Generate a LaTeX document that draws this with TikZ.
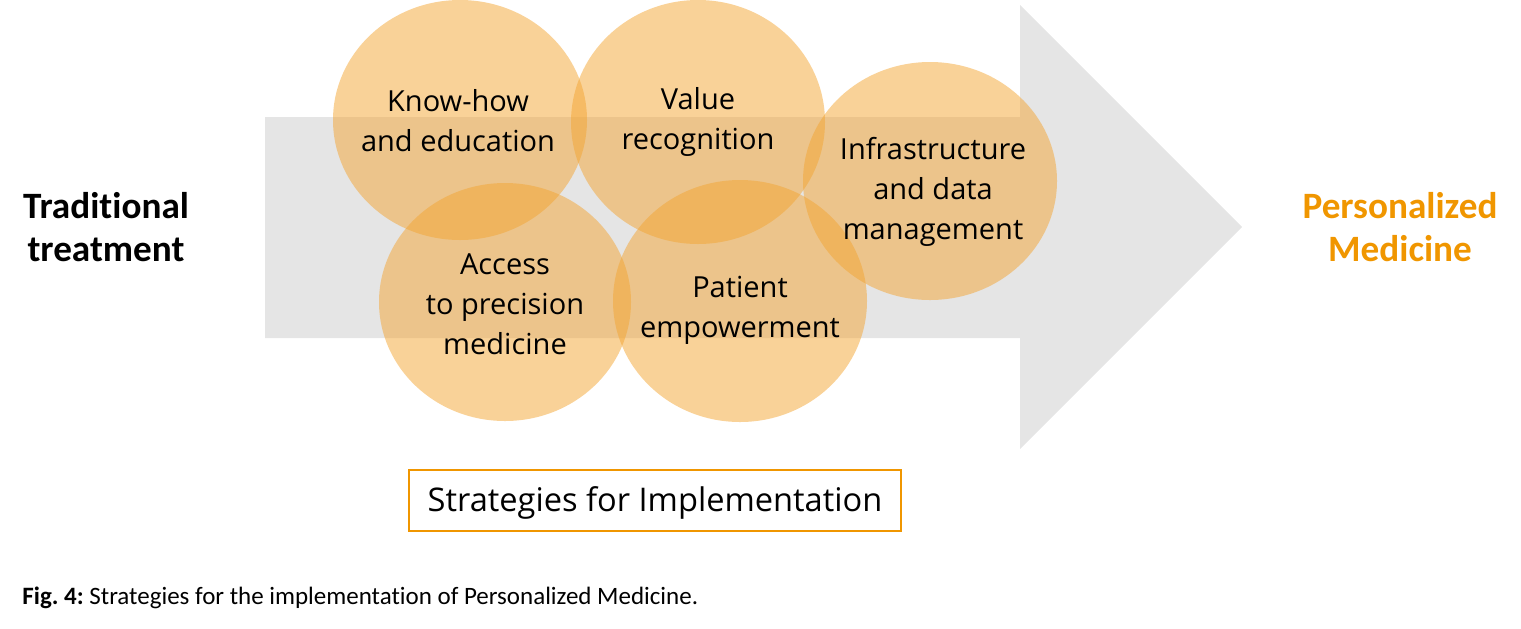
\documentclass[tikz,border=0pt]{standalone}
\usepackage{fontspec}
\setmainfont{Carlito}[Ligatures=NoCommon]
\newfontfamily\circfont{Open Sans}
\usetikzlibrary{shapes.geometric}
\definecolor{pmorange}{RGB}{240,150,0}
\definecolor{circorange}{RGB}{243,165,50}
\definecolor{arrowgray}{RGB}{229,229,229}
\frenchspacing

\begin{document}
\begin{tikzpicture}[x=0.5pt,y=-0.5pt,
  spot/.style={ellipse, fill=circorange, fill opacity=0.5, inner sep=0pt},
  spottext/.style={align=center, font=\circfont\fontsize{14.5}{20}\selectfont},
  endtext/.style={align=center, font=\bfseries\fontsize{18.6}{21.5}\selectfont}]
  \useasboundingbox (0,0) rectangle (1521,628);

  % big gray arrow
  \fill[arrowgray] (265,117) -- (1020,117) -- (1020,5) -- (1242,227)
    -- (1020,449) -- (1020,338) -- (265,338) -- cycle;

  % strategy circles
  \node[spot, minimum width=127pt, minimum height=120pt] (know) at (460,120) {};
  \node[spot, minimum width=127pt, minimum height=122pt] (value) at (698,122) {};
  \node[spot, minimum width=127pt, minimum height=119pt] (infra) at (930,181) {};
  \node[spot, minimum width=126pt, minimum height=119pt] (access) at (505,302) {};
  \node[spot, minimum width=127pt, minimum height=121pt] (patient) at (740,301) {};

  \node[spottext] (knowtxt) at (458,121) {Know-how\\and education};
  \node[spottext] (valuetxt) at (698,122) {Value\\recognition};
  \node[spottext] (infratxt) at (933,192) {Infrastructure\\and data\\management};
  \node[spottext] (accesstxt) at (505,304) {Access\\to precision\\medicine};
  \node[spottext] (patienttxt) at (740,310) {Patient\\empowerment};

  % start and goal
  \node[endtext] (trad) at (106,227) {Traditional\\treatment};
  \node[endtext, text=pmorange] (pers) at (1400,227) {Personalized\\Medicine};

  % label box
  \node[draw=pmorange, line width=1pt, minimum width=246pt, minimum height=30.5pt,
    font=\circfont\fontsize{16.3}{20}\selectfont] (strat) at (655,500) {};
  \node[font=\circfont\fontsize{16.3}{20}\selectfont] (strattxt) at (655,503) {Strategies for Implementation};

  % caption
  \node[anchor=base west, inner sep=0pt, font=\fontsize{12.5}{14}\selectfont] (cap) at (22,604)
    {\textbf{Fig. 4:} Strategies for the implementation of Personalized Medicine.};
\end{tikzpicture}
\end{document}
